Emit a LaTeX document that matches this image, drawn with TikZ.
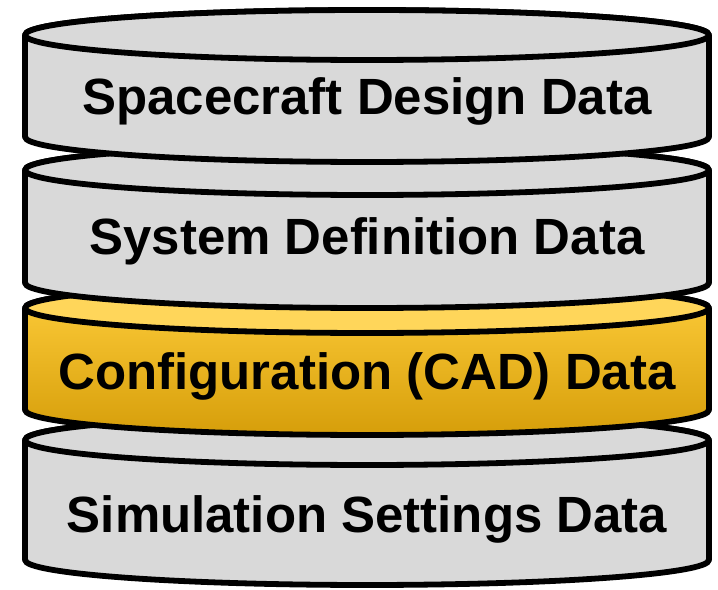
\documentclass[tikz,border=0pt]{standalone}
\usepackage{fontspec}
\setmainfont{Liberation Sans}
\usepackage{tikz}
\usetikzlibrary{calc}

\definecolor{diskgray}{RGB}{217,217,217}
\definecolor{cadtop}{RGB}{255,214,90}
\definecolor{cadlight}{RGB}{255,206,60}
\definecolor{caddark}{RGB}{214,158,10}

\tikzset{
  rim/.style={line width=3.3pt, line join=round},
  label/.style={font=\fontsize{29}{32}\selectfont\bfseries, anchor=base, inner sep=0pt},
}

\begin{document}
\begin{tikzpicture}[x=0.02cm,y=0.02cm]
        % 1 unit = 1 pixel of the 718x590 picture, y downwards as negative
        \useasboundingbox (0,0) rectangle (718,-590);

        % Simulation Settings (bottom disk)
        \draw[rim,fill=diskgray] (25,-440) -- (25,-560)
            arc[start angle=180,end angle=360,x radius=342,y radius=25]
            -- (709,-440) arc[start angle=0,end angle=180,x radius=342,y radius=25] -- cycle;
        \draw[rim,fill=diskgray] (367,-440) ellipse[x radius=342,y radius=25];
        \node[label] (sim) at (367,-533) {Simulation Settings Data};

        % Configuration (CAD) - yellow disk
        \draw[rim,top color=cadlight,bottom color=caddark] (25,-308) -- (25,-410)
            arc[start angle=180,end angle=360,x radius=342,y radius=25]
            -- (709,-308) arc[start angle=0,end angle=180,x radius=342,y radius=25] -- cycle;
        \draw[rim,fill=cadtop] (367,-308) ellipse[x radius=342,y radius=25];
        \node[label] (cad) at (367,-390) {Configuration (CAD) Data};

        % System Definition
        \draw[rim,fill=diskgray] (25,-170) -- (25,-283)
            arc[start angle=180,end angle=360,x radius=342,y radius=25]
            -- (709,-170) arc[start angle=0,end angle=180,x radius=342,y radius=25] -- cycle;
        \draw[rim,fill=diskgray] (367,-170) ellipse[x radius=342,y radius=25];
        \node[label] (sys) at (367,-255) {System Definition Data};

        % Spacecraft Design (top disk)
        \draw[rim,fill=diskgray] (25,-35) -- (25,-137)
            arc[start angle=180,end angle=360,x radius=342,y radius=25]
            -- (709,-35) arc[start angle=0,end angle=180,x radius=342,y radius=25] -- cycle;
        \draw[rim,fill=diskgray] (367,-35) ellipse[x radius=342,y radius=25];
        \node[label] (sc) at (367,-115) {Spacecraft Design Data};
    \end{tikzpicture}
\end{document}
